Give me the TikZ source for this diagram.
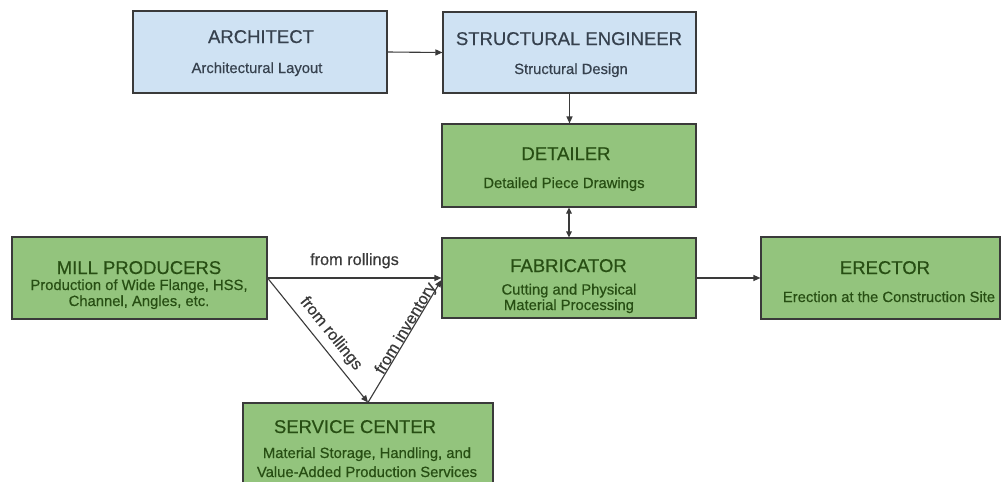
\documentclass[tikz,border=0pt]{standalone}
\usepackage{fontspec}
\setmainfont[FakeBold=0.5]{Liberation Sans}
\usetikzlibrary{arrows.meta}

\definecolor{bluefill}{HTML}{CFE2F3}
\definecolor{greenfill}{HTML}{93C47D}
\definecolor{linegray}{HTML}{3A3A3A}
\definecolor{bluetext}{HTML}{36414E}
\definecolor{greentext}{HTML}{274E13}

\tikzset{
  box/.style={draw=linegray, line width=1.1pt, rectangle, inner sep=0pt},
  bluebox/.style={box, fill=bluefill},
  greenbox/.style={box, fill=greenfill},
  ttl/.style={anchor=base, inner sep=0pt, font=\fontsize{18.5}{20}\selectfont},
  sub/.style={anchor=base, inner sep=0pt, font=\fontsize{14.8}{16}\selectfont},
  bt/.style={text=bluetext},
  gt/.style={text=greentext},
  conn/.style={draw=linegray, line width=1.1pt, -{Triangle[length=7pt,width=6pt]}},
  conntwo/.style={draw=linegray, line width=1.1pt, {Triangle[length=6pt,width=5.5pt]}-{Triangle[length=6pt,width=5.5pt]}},
  lbl/.style={font=\fontsize{16.3}{18}\selectfont, text=linegray, inner sep=0pt, anchor=base}
}

\begin{document}
\begin{tikzpicture}[x=1pt, y=-1pt]
  \useasboundingbox (0,0) rectangle (1002,482);
  \fill[white] (0,0) rectangle (1002,482);

  % design side
  \node[bluebox, minimum width=254pt, minimum height=82pt] (arch) at (260,52) {};
  \node[bluebox, minimum width=253pt, minimum height=81pt] (se) at (569.5,52.5) {};
  \node[greenbox, minimum width=254pt, minimum height=83pt] (det) at (569,165.5) {};

  % supply chain
  \node[greenbox, minimum width=254pt, minimum height=80pt] (fab) at (569,278) {};
  \node[greenbox, minimum width=255pt, minimum height=82pt] (mill) at (139.5,278) {};
  \node[greenbox, minimum width=239pt, minimum height=82pt] (ere) at (880.5,278) {};
  \begin{scope}
    \clip (0,0) rectangle (1002,482);
    \node[greenbox, minimum width=250pt, minimum height=82pt] (sc) at (368,444) {};
  \end{scope}

  % box texts
  \node[ttl, bt] at (261,43) {ARCHITECT};
  \node[sub, bt] at (257,73) {Architectural Layout};

  \node[ttl, bt] at (569,45) {STRUCTURAL ENGINEER};
  \node[sub, bt] at (571,74) {Structural Design};

  \node[ttl, gt] at (566,160) {DETAILER};
  \node[sub, gt] at (564,188) {Detailed Piece Drawings};

  \node[ttl, gt] at (568.5,272) {FABRICATOR};
  \node[sub, gt] at (569,294.5) {Cutting and Physical};
  \node[sub, gt] at (569,310) {Material Processing};

  \node[ttl, gt] at (139,274) {MILL PRODUCERS};
  \node[sub, gt] at (139,290) {Production of Wide Flange, HSS,};
  \node[sub, gt] at (139,306) {Channel, Angles, etc.};

  \node[ttl, gt] at (885,274) {ERECTOR};
  \node[sub, gt] at (889,302) {Erection at the Construction Site};

  \node[ttl, gt] at (355,433) {SERVICE CENTER};
  \node[sub, gt] at (367,458) {Material Storage, Handling, and};
  \node[sub, gt] at (367,477) {Value-Added Production Services};

  % connectors
  \draw[conn] (arch.east) -- (se.west);
  \draw[conn] (se.south) -- (se.south |- det.north);
  \draw[conntwo] (det.south) -- (fab.north);
  \draw[conn] (mill.east) -- node[lbl, midway, yshift=13pt] {from rollings} (fab.west);
  \draw[conn] (mill.east) -- node[lbl, pos=0.52, sloped, yshift=10pt] {from rollings} (sc.north);
  \draw[conn] (sc.north) -- node[lbl, pos=0.58, sloped, yshift=1pt] {from inventory} ([yshift=-2pt]fab.west);
  \draw[conn] (fab.east) -- (ere.west);
\end{tikzpicture}
\end{document}
